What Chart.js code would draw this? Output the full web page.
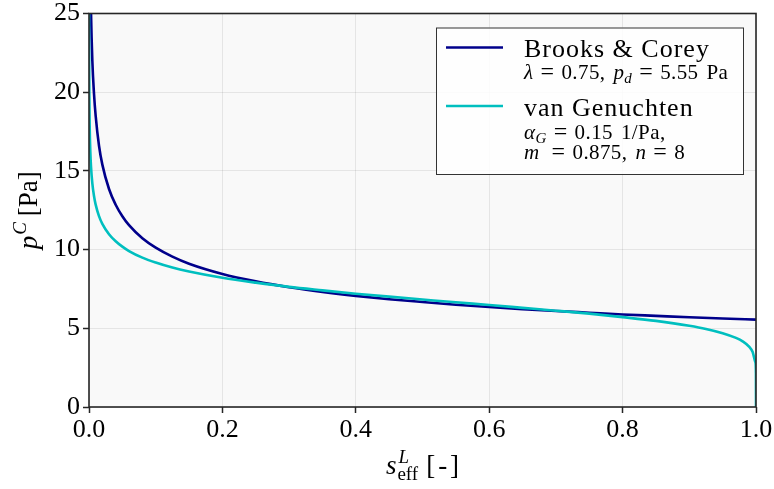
<!DOCTYPE html>
<html>
<head>
<meta charset="utf-8">
<script src="https://cdn.jsdelivr.net/npm/chart.js@4.4.1/dist/chart.umd.min.js"></script>
<style>
  html, body { margin: 0; padding: 0; background: #ffffff; }
  #wrap { width: 774px; height: 489px; position: relative; }
</style>
</head>
<body>
<div id="wrap"><canvas id="chart" width="774" height="489"></canvas></div>
<script>
// Capillary pressure curves p^C over effective liquid saturation
const sBrooksCorey = [0.001, 0.002, 0.003, 0.005, 0.0075, 0.01, 0.015, 0.02, 0.03, 0.04, 0.05, 0.06, 0.08, 0.1, 0.125, 0.15, 0.2, 0.25, 0.3, 0.35, 0.4, 0.45, 0.5, 0.55, 0.6, 0.65, 0.7, 0.75, 0.8, 0.85, 0.9, 0.95, 1.0];
const pBrooksCorey = [33.4, 27.9, 25.1, 22.0, 19.9, 18.5, 16.6, 15.4, 13.85, 12.85, 12.12, 11.55, 10.72, 10.12, 9.55, 9.1, 8.45, 7.98, 7.61, 7.31, 7.06, 6.85, 6.67, 6.5, 6.35, 6.22, 6.1, 5.99, 5.88, 5.79, 5.7, 5.62, 5.55];

const sVanGenuchten = [0.00001, 0.0001, 0.0002, 0.0005, 0.001, 0.002, 0.003, 0.005, 0.0075, 0.01, 0.015, 0.02, 0.03, 0.04, 0.05, 0.06, 0.08, 0.1, 0.125, 0.15, 0.2, 0.25, 0.3, 0.35, 0.4, 0.45, 0.5, 0.55, 0.6, 0.65, 0.7, 0.75, 0.8, 0.85, 0.9, 0.925, 0.95, 0.97, 0.98, 0.99, 0.995, 0.999, 0.9999, 1.0];
const pVanGenuchten = [34.5, 24.85, 22.51, 19.75, 17.88, 16.2, 15.28, 14.21, 13.41, 12.86, 12.13, 11.64, 10.98, 10.53, 10.19, 9.91, 9.49, 9.18, 8.86, 8.61, 8.21, 7.9, 7.63, 7.41, 7.2, 7.01, 6.83, 6.65, 6.48, 6.3, 6.12, 5.93, 5.71, 5.47, 5.16, 4.96, 4.69, 4.39, 4.17, 3.82, 3.5, 2.86, 2.14, 0];

const xTicks = [0.0, 0.2, 0.4, 0.6, 0.8, 1.0];
const yTicks = [0, 5, 10, 15, 20, 25];

const seriesNames = ['Brooks & Corey', 'van Genuchten'];
const seriesColors = ['#00008b', '#00bfbf'];

const SERIF = '"Liberation Serif", "Times New Roman", serif';
const font = (size, italic) => `${italic ? 'italic ' : ''}${size}px ${SERIF}`;

// draw a sequence of text runs (size, italic, rise, gap) and return the end x
function drawRuns(ctx, x, y, runs) {
  for (const r of runs) {
    if (r.stack) {
      // superscript and subscript stacked at the same x
      let w = 0;
      for (const s of r.stack) {
        ctx.font = font(s.size, s.italic);
        ctx.fillText(s.t, x + (s.dx || 0), y - (s.rise || 0));
        w = Math.max(w, ctx.measureText(s.t).width + (s.dx || 0));
      }
      x += w + (r.gap || 0);
      continue;
    }
    ctx.font = font(r.size, r.italic);
    ctx.fillText(r.t, x, y - (r.rise || 0));
    x += ctx.measureText(r.t).width + (r.gap || 0);
  }
  return x;
}
function runsWidth(ctx, runs) {
  let x = 0;
  for (const r of runs) {
    if (r.stack) {
      let w = 0;
      for (const s of r.stack) { ctx.font = font(s.size, s.italic); w = Math.max(w, ctx.measureText(s.t).width + (s.dx || 0)); }
      x += w + (r.gap || 0);
    } else { ctx.font = font(r.size, r.italic); x += ctx.measureText(r.t).width + (r.gap || 0); }
  }
  return x;
}

const decorations = {
  id: 'decorations',
  beforeDraw(chart) {
    const { ctx, chartArea: a } = chart;
    ctx.save();
    ctx.fillStyle = '#ffffff';
    ctx.fillRect(0, 0, chart.width, chart.height);
    ctx.fillStyle = '#f9f9f9';
    ctx.fillRect(a.left, a.top, a.right - a.left, a.bottom - a.top);
    ctx.restore();
  },
  afterDatasetsDraw(chart) {
    const { ctx, chartArea: a } = chart;
    ctx.save();
    // plot frame
    ctx.strokeStyle = '#262626';
    ctx.lineWidth = 1.6;
    ctx.strokeRect(a.left, a.top, a.right - a.left, a.bottom - a.top);
    ctx.fillStyle = '#000';
    ctx.textBaseline = 'alphabetic';
    ctx.textAlign = 'left';
    ctx.letterSpacing = '0px';

    // x axis title: s^L_eff [ - ]
    const xRuns = [
      { t: 's', size: 27, italic: true, gap: 1 },
      { stack: [ { t: 'L', size: 19, italic: true, rise: 11, dx: 1 }, { t: 'eff', size: 19, rise: -6 } ], gap: 8 },
      { t: '[', size: 27, gap: 3 },
      { t: '-', size: 27, gap: 3 },
      { t: ']', size: 27 }
    ];
    const xw = runsWidth(ctx, xRuns);
    drawRuns(ctx, (a.left + a.right) / 2 - xw / 2, 474, xRuns);

    // y axis title: p^C [Pa]
    const yRuns = [
      { t: 'p', size: 27, italic: true, gap: 1 },
      { t: 'C', size: 19, italic: true, rise: 11, gap: 6 },
      { t: '[Pa]', size: 27 }
    ];
    const yw = runsWidth(ctx, yRuns);
    ctx.save();
    ctx.translate(37, (a.top + a.bottom) / 2);
    ctx.rotate(-Math.PI / 2);
    drawRuns(ctx, -yw / 2, 0, yRuns);
    ctx.restore();

    // legend
    const bx = 436, by = 27.5, bw = 307, bh = 146.5;
    ctx.fillStyle = 'rgba(255,255,255,0.85)';
    ctx.fillRect(bx, by, bw, bh);
    ctx.strokeStyle = '#333';
    ctx.lineWidth = 1;
    ctx.strokeRect(bx + 0.5, by + 0.5, bw, bh);

    const markerY = [47.5, 106];
    seriesColors.forEach((c, i) => {
      ctx.strokeStyle = c;
      ctx.lineWidth = 2.6;
      ctx.beginPath();
      ctx.moveTo(446, markerY[i]);
      ctx.lineTo(503, markerY[i]);
      ctx.stroke();
    });

    ctx.fillStyle = '#000';
    const tx = 524;
    ctx.letterSpacing = '1px';
    drawRuns(ctx, tx, 57, [{ t: seriesNames[0], size: 26 }]);
    drawRuns(ctx, tx, 116, [{ t: seriesNames[1], size: 26 }]);
    ctx.letterSpacing = '0.4px';
    const sub = 21, sm = 15, eq = 24, g = 7;
    drawRuns(ctx, tx, 78.5, [
      { t: 'λ', size: sub, italic: true, gap: g },
      { t: '=', size: eq, gap: g },
      { t: '0.75,', size: sub, gap: 8 },
      { t: 'p', size: sub, italic: true },
      { t: 'd', size: sm, italic: true, rise: -4, gap: g },
      { t: '=', size: eq, gap: g },
      { t: '5.55', size: sub, gap: 8 },
      { t: 'Pa', size: sub }
    ]);
    drawRuns(ctx, tx, 138.5, [
      { t: 'α', size: sub, italic: true },
      { t: 'G', size: sm, italic: true, rise: -4, gap: g },
      { t: '=', size: eq, gap: g },
      { t: '0.15', size: sub, gap: 8 },
      { t: '1/Pa,', size: sub }
    ]);
    drawRuns(ctx, tx, 158.5, [
      { t: 'm', size: sub, italic: true, gap: 12 },
      { t: '=', size: eq, gap: g },
      { t: '0.875,', size: sub, gap: 8 },
      { t: 'n', size: sub, italic: true, gap: g },
      { t: '=', size: eq, gap: g },
      { t: '8', size: sub }
    ]);
    ctx.restore();
  }
};

const toPoints = (xs, ys) => xs.map((x, i) => ({ x, y: ys[i] }));

new Chart(document.getElementById('chart'), {
  type: 'line',
  data: {
    datasets: [
      {
        label: seriesNames[1],
        data: toPoints(sVanGenuchten, pVanGenuchten),
        borderColor: seriesColors[1],
        borderWidth: 2.6,
        pointRadius: 0,
        cubicInterpolationMode: 'monotone',
        fill: false
      },
      {
        label: seriesNames[0],
        data: toPoints(sBrooksCorey, pBrooksCorey),
        borderColor: seriesColors[0],
        borderWidth: 2.6,
        pointRadius: 0,
        cubicInterpolationMode: 'monotone',
        fill: false
      }
    ]
  },
  options: {
    responsive: false,
    animation: false,
    devicePixelRatio: 1,
    layout: { padding: { left: 0, right: 18, top: 13.5, bottom: 0 } },
    plugins: { legend: { display: false }, tooltip: { enabled: false } },
    scales: {
      x: {
        type: 'linear',
        min: 0, max: 1,
        afterBuildTicks: (s) => { s.ticks = xTicks.map(v => ({ value: v })); },
        afterFit: (s) => { s.height = 82; s.paddingLeft = 0; s.paddingRight = 0; },
        border: { display: false },
        grid: {
          color: 'rgba(0,0,0,0.08)', lineWidth: 1, borderDash: [2, 2],
          drawTicks: true, tickLength: 6, tickColor: '#262626', tickWidth: 1.5, tickBorderDash: []
        },
        ticks: {
          color: '#000', padding: 4, maxRotation: 0,
          font: { family: SERIF, size: 26, lineHeight: 1 },
          callback: (v) => Number(v).toFixed(1)
        }
      },
      y: {
        type: 'linear',
        min: 0, max: 25,
        afterBuildTicks: (s) => { s.ticks = yTicks.map(v => ({ value: v })); },
        afterFit: (s) => { s.width = 89; s.paddingTop = 0; s.paddingBottom = 0; },
        border: { display: false },
        grid: {
          color: 'rgba(0,0,0,0.08)', lineWidth: 1, borderDash: [2, 2],
          drawTicks: true, tickLength: 6, tickColor: '#262626', tickWidth: 1.5, tickBorderDash: []
        },
        ticks: {
          color: '#000', padding: 3,
          font: { family: SERIF, size: 26, lineHeight: 1 },
          callback: (v) => String(v)
        }
      }
    }
  },
  plugins: [decorations]
});
</script>
</body>
</html>
